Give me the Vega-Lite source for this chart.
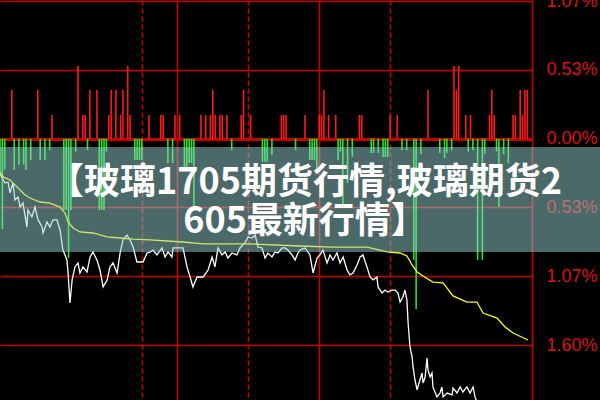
{
  "$schema": "https://vega.github.io/schema/vega-lite/v6.json",
  "width": 532,
  "height": 400,
  "autosize": {"type": "none"},
  "padding": {"left": 0, "top": 0, "right": 68, "bottom": 0},
  "background": "#000000",
  "config": {"view": {"stroke": null}},
  "datasets": {
    "bars": [
      {"t":5,"v":0.377},{"t":16,"v":0.377},{"t":22,"v":0.183},{"t":33,"v":0.563},{"t":35,"v":0.183},{"t":36,"v":0.183},{"t":38,"v":0.377},{"t":41,"v":0.377},{"t":46,"v":0.183},{"t":47,"v":0.377},{"t":49,"v":0.377},{"t":51,"v":0.183},{"t":52,"v":0.377},{"t":54,"v":0.563},{"t":55,"v":0.183},{"t":63,"v":0.183},{"t":68,"v":0.183},{"t":69,"v":0.183},{"t":74,"v":0.183},{"t":76,"v":0.183},{"t":85,"v":0.183},{"t":87,"v":0.183},{"t":89,"v":0.183},{"t":90,"v":0.377},{"t":91,"v":0.183},{"t":93,"v":0.183},{"t":94,"v":0.183},{"t":96,"v":0.183},{"t":102,"v":0.183},{"t":103,"v":0.377},{"t":106,"v":0.183},{"t":119,"v":0.183},{"t":120,"v":0.183},{"t":121,"v":0.183},{"t":129,"v":0.183},{"t":135,"v":0.183},{"t":136,"v":0.183},{"t":137,"v":0.377},{"t":139,"v":0.183},{"t":142,"v":0.183},{"t":152,"v":0.183},{"t":153,"v":0.183},{"t":165,"v":0.183},{"t":168,"v":0.183},{"t":181,"v":0.377},{"t":192,"v":0.563},{"t":193,"v":0.377},{"t":194,"v":0.563},{"t":197,"v":0.183},{"t":199,"v":0.183},{"t":207,"v":0.183},{"t":208,"v":0.377},{"t":209,"v":0.183},{"t":217,"v":0.183},{"t":218,"v":0.183},{"t":220,"v":0.377},{"t":221,"v":0.183},{"t":222,"v":0.377},{"t":223,"v":0.377},
      {"t":0,"v":-0.28},{"t":1,"v":-0.7},{"t":2,"v":-0.24},{"t":6,"v":-0.243},{"t":8,"v":-0.204},{"t":10,"v":-0.2},{"t":11,"v":-0.243},{"t":13,"v":-0.166},{"t":17,"v":-0.166},{"t":19,"v":-0.166},{"t":21,"v":-0.088},{"t":27,"v":-0.553},{"t":28,"v":-0.553},{"t":29,"v":-0.925},{"t":30,"v":-0.553},{"t":32,"v":-0.1},{"t":37,"v":-0.088},{"t":42,"v":-0.553},{"t":43,"v":-0.553},{"t":44,"v":-0.553},{"t":45,"v":-0.1},{"t":57,"v":-0.166},{"t":58,"v":-0.166},{"t":59,"v":-0.166},{"t":60,"v":-0.166},{"t":71,"v":-0.189},{"t":73,"v":-0.189},{"t":78,"v":-0.243},{"t":79,"v":-0.243},{"t":80,"v":-0.189},{"t":81,"v":-0.189},{"t":82,"v":-0.553},{"t":98,"v":-0.088},{"t":111,"v":-0.18},{"t":112,"v":-0.18},{"t":113,"v":-0.18},{"t":115,"v":-0.127},{"t":125,"v":-0.088},{"t":131,"v":-0.166},{"t":132,"v":-0.166},{"t":133,"v":-0.166},{"t":134,"v":-0.243},{"t":143,"v":-0.166},{"t":144,"v":-0.1},{"t":145,"v":-0.53},{"t":147,"v":-0.344},{"t":149,"v":-0.14},{"t":157,"v":-0.111},{"t":158,"v":-0.111},{"t":160,"v":-0.111},{"t":162,"v":-0.142},{"t":163,"v":-0.142},{"t":164,"v":-0.142},{"t":170,"v":-0.09},{"t":172,"v":-0.09},{"t":175,"v":-0.94},{"t":176,"v":-1.32},{"t":178,"v":-0.12},{"t":186,"v":-0.11},{"t":188,"v":-0.15},{"t":189,"v":-0.11},{"t":191,"v":-0.09},{"t":198,"v":-0.1},{"t":200,"v":-0.09},{"t":202,"v":-0.94},{"t":204,"v":-0.94},{"t":205,"v":-0.12},{"t":210,"v":-0.1},{"t":211,"v":-0.53},{"t":213,"v":-0.12},{"t":215,"v":-0.19}
    ],
    "price": [
      {"t":0,"v":-0.274},{"t":2.1,"v":-0.344},{"t":3.4,"v":-0.336},{"t":4.2,"v":-0.421},{"t":5.5,"v":-0.344},{"t":6.3,"v":-0.475},{"t":7.6,"v":-0.452},{"t":8.5,"v":-0.53},{"t":9.7,"v":-0.499},{"t":11.4,"v":-0.685},{"t":11.8,"v":-0.553},{"t":13.5,"v":-0.607},{"t":14.8,"v":-0.53},{"t":16.1,"v":-0.63},{"t":17.8,"v":-0.685},{"t":18.2,"v":-0.731},{"t":19.9,"v":-0.646},{"t":21.1,"v":-0.685},{"t":22.4,"v":-0.63},{"t":24.1,"v":-0.63},{"t":25.4,"v":-0.708},{"t":26.6,"v":-0.863},{"t":27.5,"v":-0.901},{"t":28.3,"v":-0.94},{"t":28.8,"v":-1.041},{"t":29.6,"v":-1.273},{"t":30.5,"v":-1.095},{"t":31.7,"v":-0.994},{"t":33.0,"v":-0.963},{"t":33.8,"v":-1.041},{"t":35.1,"v":-0.994},{"t":36.8,"v":-1.033},{"t":38.1,"v":-0.917},{"t":39.3,"v":-0.878},{"t":41.0,"v":-0.94},{"t":42.3,"v":-1.018},{"t":43.6,"v":-1.149},{"t":45.3,"v":-1.095},{"t":46.5,"v":-0.994},{"t":47.8,"v":-0.963},{"t":49.5,"v":-1.041},{"t":50.8,"v":-0.886},{"t":52.0,"v":-0.785},{"t":53.7,"v":-0.747},{"t":55.0,"v":-0.785},{"t":56.3,"v":-0.84},{"t":57.9,"v":-0.956},{"t":60.5,"v":-0.956},{"t":62.2,"v":-0.886},{"t":63.4,"v":-0.88},{"t":64.7,"v":-0.863},{"t":66.4,"v":-0.901},{"t":68.5,"v":-0.847},{"t":69.8,"v":-0.917},{"t":71.1,"v":-0.878},{"t":72.7,"v":-0.917},{"t":73.2,"v":-0.847},{"t":74.9,"v":-0.847},{"t":77.4,"v":-0.847},{"t":79.1,"v":-0.994},{"t":80.4,"v":-1.072},{"t":81.6,"v":-1.149},{"t":83.3,"v":-1.072},{"t":85.9,"v":-1.072},{"t":88.0,"v":-1.018},{"t":89.7,"v":-0.917},{"t":90.9,"v":-0.994},{"t":92.2,"v":-0.847},{"t":93.9,"v":-0.901},{"t":95.2,"v":-0.878},{"t":96.4,"v":-0.925},{"t":98.1,"v":-0.886},{"t":100.2,"v":-0.901},{"t":101.5,"v":-0.847},{"t":103.6,"v":-0.808},{"t":104.9,"v":-0.762},{"t":106.6,"v":-0.77},{"t":107.9,"v":-0.747},{"t":109.1,"v":-0.84},{"t":110.8,"v":-0.847},{"t":112.1,"v":-0.925},{"t":113.3,"v":-0.886},{"t":115.0,"v":-0.917},{"t":116.3,"v":-0.878},{"t":117.6,"v":-0.886},{"t":119.3,"v":-0.847},{"t":120.5,"v":-0.847},{"t":121.8,"v":-0.863},{"t":123.5,"v":-0.901},{"t":124.8,"v":-0.94},{"t":126.0,"v":-0.886},{"t":126.9,"v":-0.863},{"t":129.0,"v":-0.847},{"t":131.1,"v":-0.901},{"t":132.4,"v":-1.041},{"t":134.1,"v":-0.925},{"t":135.3,"v":-0.901},{"t":136.6,"v":-0.863},{"t":138.3,"v":-0.963},{"t":139.6,"v":-0.901},{"t":140.8,"v":-0.94},{"t":142.5,"v":-0.886},{"t":143.8,"v":-0.963},{"t":145.1,"v":-0.917},{"t":146.8,"v":-1.018},{"t":148.0,"v":-1.056},{"t":149.3,"v":-1.041},{"t":151.0,"v":-0.979},{"t":152.3,"v":-0.917},{"t":153.5,"v":-0.901},{"t":155.2,"v":-0.994},{"t":156.5,"v":-1.072},{"t":157.8,"v":-1.095},{"t":159.4,"v":-1.072},{"t":159.9,"v":-1.149},{"t":161.6,"v":-1.196},{"t":162.8,"v":-1.173},{"t":164.1,"v":-1.188},{"t":165.8,"v":-1.173},{"t":167.1,"v":-1.173},{"t":168.3,"v":-1.196},{"t":169.2,"v":-1.266},{"t":170.4,"v":-1.227},{"t":171.3,"v":-1.173},{"t":172.1,"v":-1.25},{"t":172.6,"v":-1.428},{"t":173.4,"v":-1.614},{"t":174.3,"v":-1.692},{"t":174.7,"v":-1.769},{"t":175.5,"v":-1.87},{"t":176.4,"v":-1.947},{"t":177.6,"v":-1.87},{"t":178.5,"v":-1.816},{"t":178.9,"v":-1.893},{"t":179.8,"v":-1.847},{"t":180.6,"v":-1.7},{"t":181.0,"v":-1.792},{"t":181.9,"v":-1.847},{"t":182.7,"v":-1.816},{"t":183.1,"v":-1.924},{"t":184.8,"v":-2.001},{"t":186.1,"v":-1.971},{"t":186.9,"v":-1.924},{"t":187.4,"v":-2.001},{"t":189.1,"v":-1.971},{"t":191.2,"v":-1.986},{"t":191.6,"v":-1.932},{"t":193.3,"v":-1.971},{"t":194.6,"v":-1.924},{"t":195.8,"v":-1.963},{"t":197.5,"v":-1.924},{"t":198.8,"v":-1.971},{"t":200.1,"v":-1.924},{"t":200.9,"v":-2.001},{"t":203.0,"v":-2.102},{"t":207.2,"v":-2.141},{"t":211.5,"v":-2.18},{"t":215.7,"v":-2.164},{"t":219.9,"v":-2.219},{"t":223.3,"v":-2.257}
    ],
    "avg": [
      {"t":0,"v":-0.259},{"t":1.3,"v":-0.297},{"t":4.2,"v":-0.32},{"t":7.2,"v":-0.375},{"t":10.6,"v":-0.437},{"t":12.7,"v":-0.46},{"t":16.9,"v":-0.491},{"t":21.1,"v":-0.499},{"t":25.4,"v":-0.53},{"t":27.5,"v":-0.576},{"t":28.8,"v":-0.646},{"t":30.9,"v":-0.692},{"t":33.8,"v":-0.723},{"t":39.3,"v":-0.731},{"t":45.3,"v":-0.762},{"t":50.8,"v":-0.77},{"t":56.3,"v":-0.778},{"t":63.4,"v":-0.785},{"t":77.4,"v":-0.801},{"t":85.9,"v":-0.816},{"t":105.7,"v":-0.816},{"t":126.9,"v":-0.832},{"t":140.8,"v":-0.84},{"t":155.2,"v":-0.84},{"t":163.7,"v":-0.878},{"t":169.2,"v":-0.886},{"t":172.1,"v":-0.909},{"t":174.3,"v":-0.979},{"t":176.4,"v":-1.033},{"t":178.9,"v":-1.064},{"t":183.1,"v":-1.111},{"t":187.4,"v":-1.118},{"t":191.6,"v":-1.219},{"t":197.5,"v":-1.266},{"t":201.7,"v":-1.266},{"t":204.3,"v":-1.351},{"t":210.2,"v":-1.39},{"t":213.6,"v":-1.459},{"t":217.0,"v":-1.506},{"t":223.3,"v":-1.56}
    ]
  },
  "layer": [
    {
      "data": {"name": "bars"},
      "mark": {"type": "rule", "strokeWidth": 1.6},
      "encoding": {
        "x": {
          "field": "t", "type": "quantitative",
          "scale": {"domain": [0, 225], "nice": false, "zero": false},
          "axis": {
            "values": [60, 75, 105, 135, 165, 225],
            "grid": true, "labels": false, "ticks": false, "domain": false, "title": null,
            "gridColor": "#c80000", "gridOpacity": 1, "gridWidth": 1.6,
            "gridDash": {"condition": {"test": "datum.value == 60 || datum.value == 105 || datum.value == 165", "value": [5, 3]}, "value": []}
          }
        },
        "y": {
          "field": "v", "type": "quantitative",
          "scale": {"domain": [-2.025, 1.074], "nice": false, "zero": false},
          "axis": {
            "orient": "right",
            "values": [1.066, 0.533, 0, -0.533, -1.066, -1.599],
            "labelExpr": "format(abs(datum.value), '.2f') + '%'",
            "labelColor": "#dd1111", "labelFont": "Liberation Sans", "labelFontSize": 18,
            "labelPadding": 14, "labelOverlap": false,
            "ticks": false, "domain": false, "title": null,
            "grid": true, "gridColor": "#c80000", "gridOpacity": 1,
            "gridWidth": {"condition": {"test": "datum.value == 0", "value": 3}, "value": 1.6}
          }
        },
        "y2": {"datum": 0},
        "color": {"condition": {"test": "datum.v > 0", "value": "#ff1a1a"}, "value": "#22e622"}
      }
    },
    {
      "data": {"name": "price"},
      "mark": {"type": "line", "color": "#ffffff", "strokeWidth": 1.3, "clip": true},
      "encoding": {
        "x": {"field": "t", "type": "quantitative"},
        "y": {"field": "v", "type": "quantitative"}
      }
    },
    {
      "data": {"name": "avg"},
      "mark": {"type": "line", "color": "#ffff00", "strokeWidth": 1.3, "clip": true},
      "encoding": {
        "x": {"field": "t", "type": "quantitative"},
        "y": {"field": "v", "type": "quantitative"}
      }
    },
    {
      "data": {"values": [{"band": "overlay"}]},
      "mark": {"type": "rect", "fill": "#96d2d2", "opacity": 0.5},
      "encoding": {
        "x": {"datum": -10, "type": "quantitative"},
        "x2": {"datum": 262},
        "y": {"datum": -0.065, "type": "quantitative"},
        "y2": {"datum": -0.878}
      }
    },
    {
      "data": {"values": [{"label": "【玻璃1705期货行情,玻璃期货2\n605最新行情】"}]},
      "mark": {"type": "text", "lineBreak": "\n", "font": "Noto Sans CJK SC", "fontWeight": "bold", "fontSize": 36, "lineHeight": 39, "color": "#ffffff", "align": "center", "baseline": "middle"},
      "encoding": {
        "x": {"datum": 129, "type": "quantitative"},
        "y": {"datum": -0.344, "type": "quantitative"},
        "text": {"field": "label"}
      }
    }
  ]
}
